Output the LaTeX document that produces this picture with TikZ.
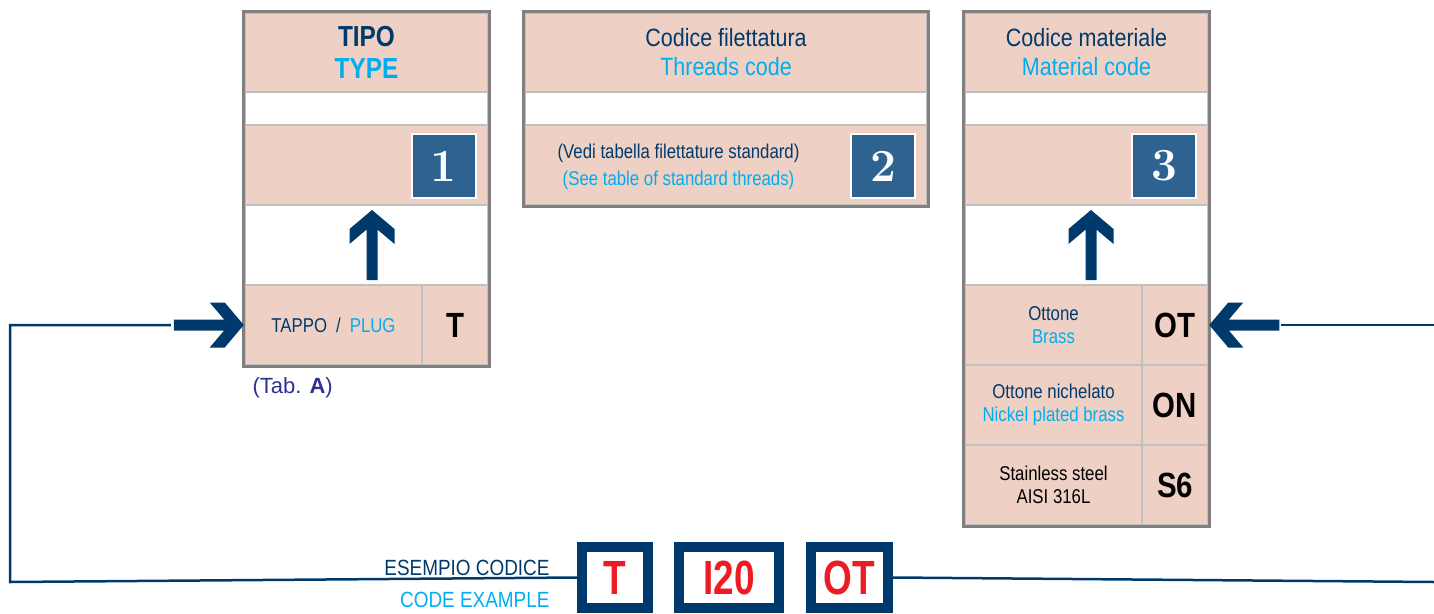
\documentclass[tikz,border=0pt]{standalone}
\usepackage{fontspec}
\usetikzlibrary{calc}
\newfontfamily\sans{Liberation Sans}
\newfontfamily\hdr[FakeStretch=0.86]{Liberation Sans}
\newfontfamily\cnd[FakeStretch=0.84]{Liberation Sans}
\newfontfamily\rcnd[FakeStretch=0.77]{Liberation Sans}

\definecolor{pinkbg}{HTML}{EED0C4}
\definecolor{navy}{HTML}{003A6C}
\definecolor{lblue}{HTML}{00AEEF}
\definecolor{framegray}{HTML}{808080}
\definecolor{divgray}{HTML}{C0C0C0}
\definecolor{numblue}{HTML}{2E6391}
\definecolor{codered}{HTML}{ED1C24}
\definecolor{tabblue}{HTML}{2E3192}

\tikzset{
  cell/.style={draw=divgray, line width=2.5pt, fill=pinkbg, inner sep=0pt, align=center},
  blank/.style={draw=divgray, line width=2.5pt, inner sep=0pt},
  frame/.style={draw=framegray, line width=3pt},
  numbox/.style={draw=white, line width=2pt, fill=numblue, text=white, minimum size=64pt,
    inner sep=0pt, font=\rmfamily\bfseries\fontsize{46}{46}\selectfont},
  hdtext/.style={font=\hdr\fontsize{25}{29}\selectfont, align=center},
  small/.style={font=\cnd\fontsize{20}{22.5}\selectfont, align=center},
  bigcode/.style={font=\cnd\bfseries\fontsize{35}{35}\selectfont},
  codebox/.style={draw=navy, line width=10pt, fill=white, text=codered, minimum height=61pt,
    inner sep=0pt, font=\rcnd\bfseries\fontsize{48}{48}\selectfont},
  wire/.style={draw=navy, line width=2.5pt},
  bigarrow/.pic={\fill[navy] (0,0) -- (-19,-22.5) -- (-34,-22.5) -- (-19.6,-5.5) -- (-70,-5.5)
    -- (-70,5.5) -- (-19.6,5.5) -- (-34,22.5) -- (-19,22.5) -- cycle;}
}

\begin{document}
\begin{tikzpicture}[x=1pt, y=-1pt]
\useasboundingbox (0,0) rectangle (1434,613);

% box 1: tipo
\node[cell, minimum width=243pt, minimum height=79pt, font=\cnd\bfseries\fontsize{29}{32}\selectfont]
  (tipoHd) at (366.5,52.5) {\textcolor{navy}{TIPO}\\\textcolor{lblue}{TYPE}};
\node[blank, minimum width=243pt, minimum height=33pt] (tipoGap) at (366.5,108.5) {};
\node[cell, minimum width=243pt, minimum height=80pt] (tipoNum) at (366.5,165) {};
\node[blank, minimum width=243pt, minimum height=80pt] (tipoArr) at (366.5,245) {};
\node[cell, small, minimum width=177pt, minimum height=80pt] (tappoL) at (333.5,325)
  {\textcolor{navy}{TAPPO}\hspace{0.45em}\textcolor{navy}{/}\hspace{0.45em}\textcolor{lblue}{PLUG}};
\node[cell, bigcode, minimum width=66pt, minimum height=80pt] (tappoC) at (455,325) {T};
\draw[frame] (tipoHd.north west) rectangle (tappoC.south east);
\node[numbox] (num1) at (443.5,166) {1};
\pic[rotate=90] at (372,210) {bigarrow};
\node[anchor=base west, text=tabblue, font=\sans\fontsize{22}{22}\selectfont] (tabA) at (249,393)
  {(Tab. \textbf{A})};

% box 2: filettatura
\node[cell, hdtext, minimum width=402pt, minimum height=79pt] (filHd) at (726,52.5)
  {\textcolor{navy}{Codice filettatura}\\\textcolor{lblue}{Threads code}};
\node[blank, minimum width=402pt, minimum height=33pt] (filGap) at (726,108.5) {};
\node[cell, minimum width=402pt, minimum height=80pt] (filNum) at (726,165) {};
\draw[frame] (filHd.north west) rectangle (filNum.south east);
\node[small] (filTxt) at (678.5,167)
  {\textcolor{navy}{(Vedi tabella filettature standard)}\\[5pt]\textcolor{lblue}{(See table of standard threads)}};
\node[numbox] (num2) at (883,166) {2};

% box 3: materiale
\node[cell, hdtext, minimum width=243pt, minimum height=79pt] (matHd) at (1086.5,52.5)
  {\textcolor{navy}{Codice materiale}\\\textcolor{lblue}{Material code}};
\node[blank, minimum width=243pt, minimum height=33pt] (matGap) at (1086.5,108.5) {};
\node[cell, minimum width=243pt, minimum height=80pt] (matNum) at (1086.5,165) {};
\node[blank, minimum width=243pt, minimum height=80pt] (matArr) at (1086.5,245) {};
\node[cell, small, minimum width=177pt, minimum height=80pt] (otL) at (1053.5,325)
  {\textcolor{navy}{Ottone}\\\textcolor{lblue}{Brass}};
\node[cell, bigcode, minimum width=66pt, minimum height=80pt] (otC) at (1175,325) {OT};
\node[cell, small, minimum width=177pt, minimum height=80pt] (onL) at (1053.5,405)
  {\textcolor{navy}{Ottone nichelato}\\\textcolor{lblue}{Nickel plated brass}};
\node[cell, bigcode, minimum width=66pt, minimum height=80pt] (onC) at (1175,405) {ON};
\node[cell, small, minimum width=177pt, minimum height=80pt] (s6L) at (1053.5,485)
  {Stainless steel\\AISI 316L};
\node[cell, bigcode, minimum width=66pt, minimum height=80pt] (s6C) at (1175,485) {S6};
\draw[frame] (matHd.north west) rectangle (s6C.south east);
\node[numbox] (num3) at (1164,166) {3};
\pic[rotate=90] at (1091,210) {bigarrow};

% code example
\node[codebox, minimum width=66pt] (codeT) at (615,577.5) {T};
\node[codebox, minimum width=100pt] (codeI) at (729,577.5) {I20};
\node[codebox, minimum width=77pt] (codeOT) at (849.5,577.5) {OT};
\node[anchor=base east, text=navy, font=\hdr\fontsize{22}{22}\selectfont] (esempio) at (553,575) {ESEMPIO CODICE};
\node[anchor=base east, text=lblue, font=\hdr\fontsize{22}{22}\selectfont] (example) at (553,607) {CODE EXAMPLE};

% connectors
\coordinate (lTop) at (10,325);
\coordinate (lBot) at (10,582);
\coordinate (rTop) at (1434,325);
\coordinate (rBot) at (1434,582);
\draw[wire] ($(tappoL.west)+(-73,0)$) -- (lTop) -- (lBot) -- (codeT.west);
\pic at (tappoL.west) {bigarrow};
\draw[wire] ($(otC.east)+(72,0)$) -- (rTop);
\pic[rotate=180] at (otC.east) {bigarrow};
\draw[wire] (codeOT.east) -- (rBot);
\end{tikzpicture}
\end{document}
